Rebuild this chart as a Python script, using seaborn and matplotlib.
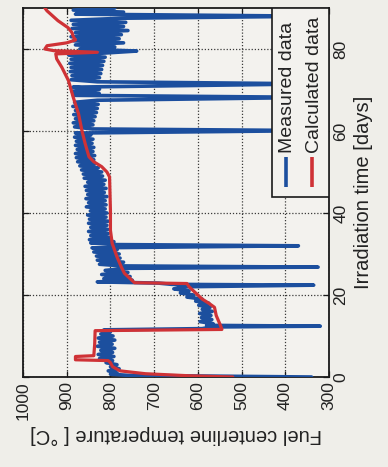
import matplotlib
matplotlib.use("Agg")
import matplotlib.pyplot as plt
import seaborn as sns
import pandas as pd
from matplotlib.patches import Rectangle

# ---------------- data ----------------
meas_time = [0.0, 0.2, 0.4, 0.7, 1.0, 1.5, 2.0, 2.5, 3.0, 3.5, 4.0, 4.5, 5.0, 5.5, 6.0, 6.5,
             7.0, 7.5, 8.0, 8.5, 9.0, 9.5, 10.0, 10.5, 11.0, 11.5, 11.8, 12.2, 12.4, 12.6,
             13.0, 13.5, 14.0, 14.5, 15.0, 15.5, 16.0, 16.5, 17.0, 17.5, 18.0, 18.5, 19.0,
             19.5, 20.0, 20.5, 21.0, 21.5, 22.0, 22.4, 22.6, 22.9, 23.2, 23.6, 24.0, 24.5,
             25.0, 25.5, 26.0, 26.5, 26.8, 27.1, 27.5, 28.0, 28.5, 29.0, 29.5, 30.0, 30.5,
             31.0, 31.5, 32.0, 32.3, 32.7, 33.0, 33.5, 34.0, 34.5, 35.0, 35.5, 36.0, 36.5,
             37.0, 37.5, 38.0, 38.5, 39.0, 39.5, 40.0, 40.5, 41.0, 41.5, 42.0, 42.5, 43.0,
             43.5, 44.0, 44.5, 45.0, 45.5, 46.0, 46.5, 47.0, 47.5, 48.0, 48.5, 49.0, 49.5,
             50.0, 50.5, 51.0, 51.5, 52.0, 52.5, 53.0, 53.5, 54.0, 54.5, 55.0, 55.5, 56.0,
             56.5, 57.0, 57.5, 58.0, 58.5, 59.0, 59.5, 60.1, 60.5, 61.0, 61.5, 62.0, 62.5,
             63.0, 63.5, 64.0, 64.5, 65.0, 65.5, 66.0, 66.5, 67.0, 67.5, 68.2, 68.7, 69.2,
             69.7, 70.2, 70.7, 71.5, 72.0, 72.5, 73.0, 73.5, 74.0, 74.5, 75.0, 75.5, 76.0,
             76.5, 77.0, 77.5, 78.0, 78.5, 79.0, 79.5, 80.0, 80.5, 81.0, 81.5, 82.0, 82.5,
             83.0, 83.5, 84.0, 84.5, 85.0, 85.5, 86.0, 86.5, 87.0, 87.5, 88.0, 88.5, 89.0,
             89.5, 90.0]
meas_temp = [340, 560, 760, 800, 785, 805, 780, 800, 785, 810, 795, 825, 792, 828, 795, 822,
             790, 830, 796, 825, 790, 828, 794, 822, 800, 815, 590, 570, 320, 580,
             565, 595, 568, 592, 570, 596, 567, 590, 572, 598, 575, 605, 590,
             625, 610, 640, 620, 655, 635, 335, 660, 690, 830, 750, 815, 755,
             820, 760, 812, 765, 325, 775, 825, 770, 830, 778, 832, 780, 838,
             785, 842, 370, 790, 845, 792, 848, 800, 845, 805, 850, 806, 845,
             808, 850, 805, 848, 810, 852, 808, 846, 812, 855, 810, 850, 812,
             856, 808, 852, 814, 855, 810, 858, 815, 852, 812, 860, 818, 862,
             820, 866, 828, 870, 835, 875, 838, 878, 836, 880, 840, 876, 838,
             880, 842, 878, 840, 882, 845, 880, 330, 842, 882, 840, 885, 838,
             880, 835, 884, 832, 880, 830, 886, 828, 882, 830, 330, 885, 826,
             888, 825, 886, 330, 830, 890, 825, 888, 822, 892, 820, 890, 818,
             893, 815, 890, 812, 895, 815, 740, 870, 790, 880, 770, 885, 780,
             890, 775, 880, 760, 888, 770, 885, 765, 890, 775, 330, 880, 770,
             885, 790]

calc_time = [0.0, 0.3, 0.8, 1.5, 2.5, 3.5, 4.0, 4.2, 5.0, 5.2, 8.0, 11.3, 11.6, 12.5,
             15.0, 17.0, 18.0, 19.0, 20.0, 21.0, 22.0, 22.8, 23.0, 24.0, 25.3, 26.8,
             29.3, 32.6, 35.8, 40.6, 48.8, 50.0, 51.3, 52.5, 53.7, 57.0, 60.0, 64.2,
             68.2, 72.3, 75.5, 77.6, 78.8, 79.2, 79.6, 80.0, 80.8, 81.5, 82.2, 83.0,
             84.0, 85.2, 86.9, 89.3, 90.0]
calc_temp = [520, 620, 720, 778, 795, 800, 805, 880, 880, 838, 836, 835, 545, 548,
             558, 562, 575, 590, 600, 610, 620, 625, 745, 755, 768, 775,
             785, 796, 800, 800, 802, 808, 820, 838, 849, 858, 865, 873,
             885, 896, 911, 923, 925, 830, 930, 950, 945, 900, 880, 885,
             888, 897, 920, 945, 950]

temp_ticks = [1000, 900, 800, 700, 600, 500, 400, 300]
time_ticks = [0, 20, 40, 60, 80]
series_names = ["Measured data", "Calculated data"]

BLUE = "#1c4f9e"
RED = "#cf3236"

# ---------------- figure ----------------
sns.set_theme(style="white")
plt.rcParams["font.family"] = ["Liberation Sans", "DejaVu Sans"]

fig = plt.figure(figsize=(3.88, 4.67), dpi=100, facecolor="#efeee9")
ax = fig.add_axes([23 / 388, 90 / 467, 306 / 388, 369 / 467])
ax.set_facecolor("#f3f2ee")

meas_df = pd.DataFrame({"time": meas_time, "temp": meas_temp})
calc_df = pd.DataFrame({"time": calc_time, "temp": calc_temp})

sns.lineplot(data=meas_df, x="temp", y="time", orient="y", sort=False, estimator=None,
             color=BLUE, lw=2.6, ax=ax, zorder=3)
sns.lineplot(data=calc_df, x="temp", y="time", orient="y", sort=False, estimator=None,
             color=RED, lw=2.3, ax=ax, zorder=4)

ax.set_xlim(1000, 300)
ax.set_ylim(0, 90)
ax.set_xticks(temp_ticks)
ax.set_xticklabels([str(v) for v in temp_ticks], rotation=90, fontsize=12.5)
ax.yaxis.tick_right()
ax.yaxis.set_label_position("right")
ax.set_yticks(time_ticks)
ax.set_yticklabels([str(v) for v in time_ticks], rotation=90, fontsize=12.5, va="center")
ax.tick_params(axis="both", direction="in", length=4, width=0.9, color="k",
               top=True, bottom=True, left=True, right=True, pad=3, labelcolor="#222222")

ax.set_xlabel("Fuel centerline temperature [ °C]", rotation=180, fontsize=14.5,
              labelpad=4, color="#222222")
ax.set_ylabel("Irradiation time [days]", rotation=90, fontsize=14.5, labelpad=4,
              color="#222222")

ax.grid(True, linestyle=(0, (1, 1.5)), color="k", linewidth=0.9, alpha=0.85)
for s in ax.spines.values():
    s.set_color("k")
    s.set_linewidth(1.3)
    s.set_visible(True)

# legend (rotated, drawn manually)
ax.add_patch(Rectangle((0.814, 0.488), 0.186, 0.512, transform=ax.transAxes,
                       facecolor="#f3f2ee", edgecolor="k", lw=1.2, zorder=6))
leg_x = [0.858, 0.945]
for xx, col, name in zip(leg_x, [BLUE, RED], series_names):
    ax.plot([xx, xx], [0.515, 0.596], transform=ax.transAxes, color=col, lw=2.6,
            zorder=7, solid_capstyle="butt")
    ax.text(xx + 0.006, 0.608, name, transform=ax.transAxes, rotation=90, ha="center",
            va="bottom", fontsize=14, color="#222222", zorder=7, clip_on=False)

fig.savefig("out.png", dpi=100, facecolor=fig.get_facecolor())
